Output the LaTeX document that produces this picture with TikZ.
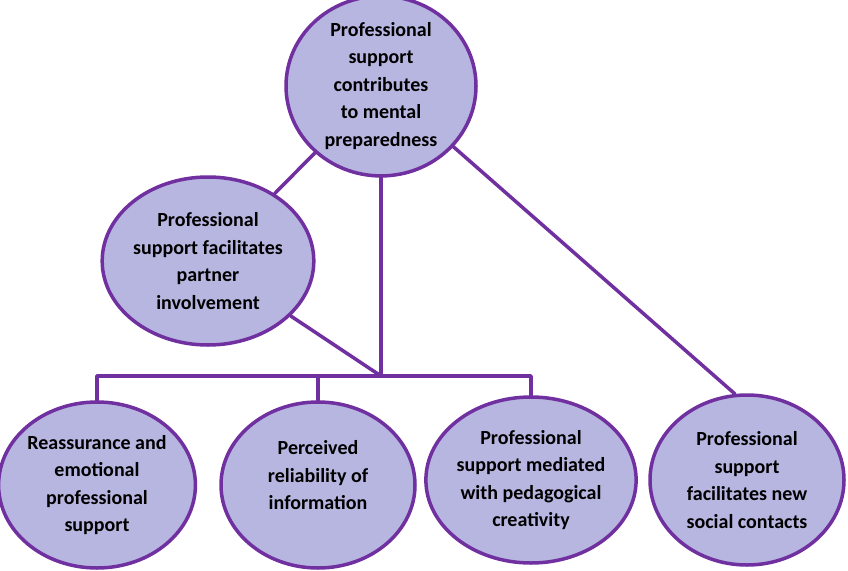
\documentclass[tikz,border=0pt]{standalone}
\usepackage{fontspec}
\setmainfont{Carlito}
\usetikzlibrary{shapes.geometric}
\definecolor{lila}{RGB}{112,48,160}
\definecolor{lavendel}{RGB}{182,182,224}
\begin{document}
\begin{tikzpicture}[x=1pt,y=-1pt,line join=round,line cap=round,
	font=\bfseries\fontsize{20}{27.5}\selectfont,
	theme/.style={ellipse,draw=lila,line width=3.5pt,fill=lavendel,align=center,inner sep=0pt,minimum width=194pt,minimum height=166pt},
	link/.style={draw=lila,line width=3.5pt}]
	\useasboundingbox (0,0) rectangle (848,570);
	\def\hy{376} % hoehe der querlinie
	% oben
	\node[theme,minimum width=190pt,minimum height=168pt] (top) at (381,86) {Professional\\support\\contributes\\to mental\\preparedness};
	\node[theme,minimum height=168pt] (partner) at (208,261) {Professional\\support facilitates\\partner\\involvement};
	% unten
	\node[theme] (reass) at (97,485) {Reassurance and\\emotional\\professional\\support};
	\node[theme] (reliab) at (318,485) {Perceived\\reliability of\\information\\[-8pt]\mbox{}};
	\node[theme] (pedag) at (531,480) {Professional\\support mediated\\with pedagogical\\creativity};
	\node[theme,minimum height=170pt] (social) at (747,480) {Professional\\support\\facilitates new\\social contacts};
	\coordinate (jn) at (top.south |- 0,\hy);
	% verbindungen
	\draw[link] (top) -- (partner);
	\draw[link] (top.south) -- (jn);
	\draw[link] (partner) -- (jn);
	\draw[link] (reass.north) |- (jn) -| (pedag.north);
	\draw[link] (reliab.north) -- (reliab.north |- jn);
	\draw[link] (top.-40) -- (social.98);
\end{tikzpicture}
\end{document}
